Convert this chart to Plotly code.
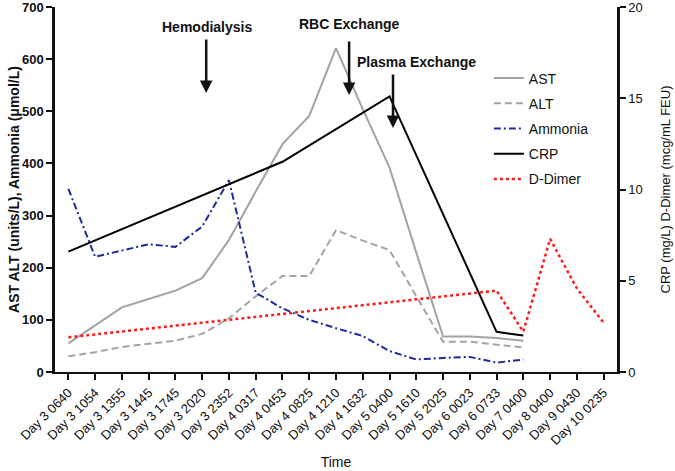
import plotly.graph_objects as go

categories = ["Day 3 0640", "Day 3 1054", "Day 3 1355", "Day 3 1445", "Day 3 1745",
              "Day 3 2020", "Day 3 2352", "Day 4 0317", "Day 4 0453", "Day 4 0825",
              "Day 4 1210", "Day 4 1632", "Day 5 0400", "Day 5 1610", "Day 5 2025",
              "Day 6 0023", "Day 6 0733", "Day 7 0400", "Day 8 0400", "Day 9 0430",
              "Day 10 0235"]

ast = [55, 90, 124, 140, 156, 180, 253, 346, 437, 491, 621, 504, 392, 229, 68, 68, 65, 60,
       None, None, None]
alt = [30, 38, 48, 54, 60, 73, 103, 145, 184, 184, 272, 252, 234, 145, 58, 58, 53, 47,
       None, None, None]
ammonia = [351, 221, 233, 245, 240, 279, 368, 152, 122, 100, 84, 69, 40, 24, 27, 29, 18, 24,
           None, None, None]
crp = [6.6, None, None, None, None, None, None, None, 11.52, None, None, None, 15.1, None,
       None, None, 2.2, 2.0, None, None, None]
ddimer = [1.9, None, None, None, None, None, None, None, None, None, None, None, None, None,
          None, None, 4.46, 2.21, 7.29, 4.58, 2.7]

events = ["Hemodialysis", "RBC Exchange", "Plasma Exchange"]
event_x = [5.15, 10.49, 12.13]
event_tip = [535, 531, 468]
label_x = [5.17, 10.49, 13.0]
label_y = [662, 667, 595]

FONT = "Arial, Liberation Sans, sans-serif"
gray = "#a3a3a3"
ink = "#111111"

fig = go.Figure()
fig.add_trace(go.Scatter(x=categories, y=ast, name="AST", mode="lines",
                         line=dict(color=gray, width=2), legendgroup="a"))
fig.add_trace(go.Scatter(x=categories, y=alt, name="ALT", mode="lines",
                         line=dict(color=gray, width=2, dash="7px,4px"), legendgroup="b"))
fig.add_trace(go.Scatter(x=categories, y=ammonia, name="Ammonia", mode="lines",
                         line=dict(color="#1f2a9c", width=2, dash="7px,3px,2px,3px"),
                         legendgroup="c"))
fig.add_trace(go.Scatter(x=categories, y=crp, name="CRP", mode="lines", yaxis="y2",
                         connectgaps=True, line=dict(color="black", width=2), legendgroup="d"))
fig.add_trace(go.Scatter(x=categories, y=ddimer, name="D-Dimer", mode="lines", yaxis="y2",
                         connectgaps=True, line=dict(color="#ff1a1a", width=2.5, dash="dot"),
                         legendgroup="e"))

for ev, ex, et, lx, ly in zip(events, event_x, event_tip, label_x, label_y):
    fig.add_annotation(x=ex, y=et, xref="x", yref="y", text="", showarrow=True,
                       ax=0, ay=-55, arrowhead=2, arrowsize=1, arrowwidth=2.5,
                       arrowcolor=ink)
    fig.add_annotation(x=lx, y=ly, xref="x", yref="y", text="<b>%s</b>" % ev,
                       showarrow=False, font=dict(size=14, color=ink, family=FONT))

fig.update_layout(
    width=675, height=471,
    margin=dict(l=55, r=58, t=7, b=99, autoexpand=False),
    paper_bgcolor="white", plot_bgcolor="white",
    font=dict(family=FONT, color=ink),
    showlegend=True,
    legend=dict(x=0.772, y=0.848, xanchor="left", yanchor="top",
                font=dict(size=14, color=ink), bgcolor="rgba(0,0,0,0)",
                itemwidth=30, tracegroupgap=4),
    xaxis=dict(type="category", range=[-0.5, 20.5], showline=True, linecolor=ink,
               linewidth=2, ticks="outside", ticklen=6, tickwidth=2, tickcolor=ink,
               tickangle=-45, tickfont=dict(size=13, color=ink), showgrid=False,
               zeroline=False, automargin=False, ticklabeloverflow="allow",
               title=dict(text="Time", font=dict(size=14), standoff=10)),
    yaxis=dict(range=[0, 700], dtick=100, showline=True, linecolor=ink, linewidth=2.5,
               ticks="outside", ticklen=6, tickwidth=2, tickcolor=ink,
               tickfont=dict(size=13, weight="bold", color=ink),
               showgrid=False, zeroline=False, automargin=False, ticklabeloverflow="allow",
               title=dict(text="<b>AST ALT (units/L), Ammonia (\u03bcmol/L)</b>",
                          font=dict(size=14), standoff=0)),
    yaxis2=dict(range=[0, 20], dtick=5, overlaying="y", side="right", showline=True,
                linecolor=ink, linewidth=2.5, ticks="outside", ticklen=6, tickwidth=2,
                tickcolor=ink, tickfont=dict(size=13, color=ink),
                showgrid=False, zeroline=False, automargin=False, ticklabeloverflow="allow",
                title=dict(text="CRP (mg/L) D-Dimer (mcg/mL FEU)", font=dict(size=13),
                           standoff=20)),
)

fig.write_html("out.html", config={"displayModeBar": False},
               post_script="document.body.style.margin='0';")
